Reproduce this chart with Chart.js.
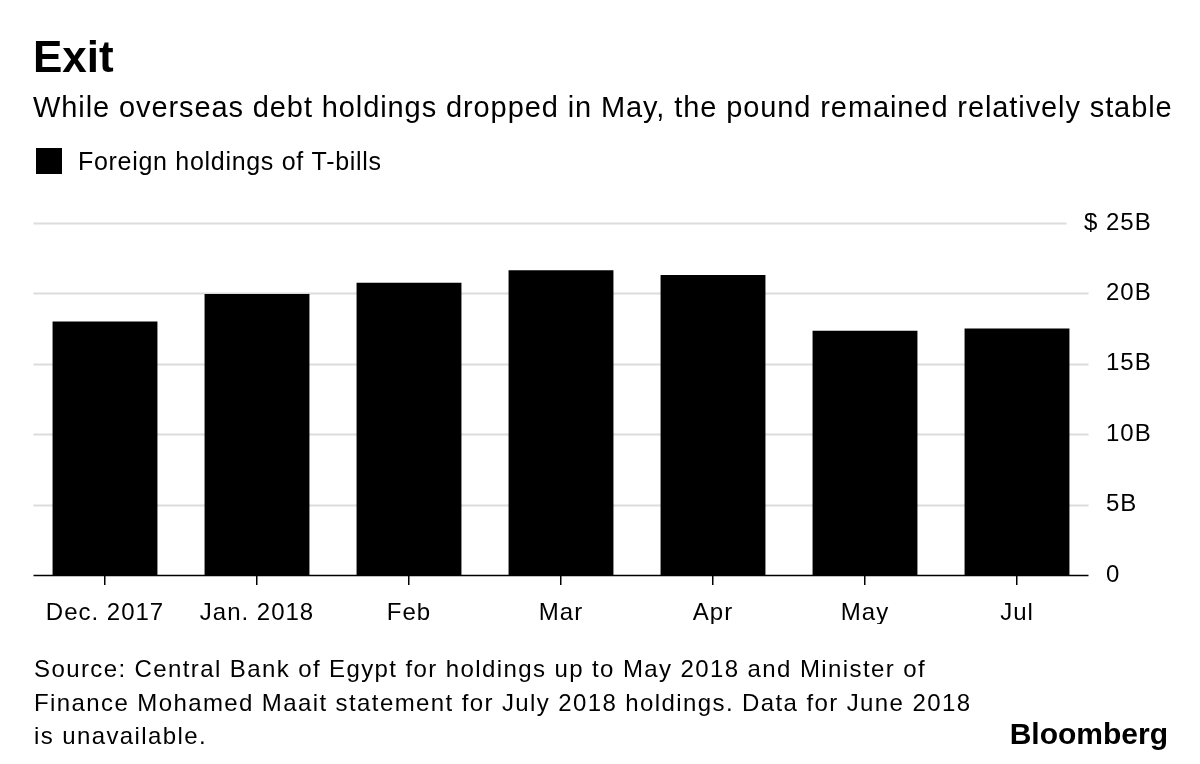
<!DOCTYPE html>
<html>
<head>
<meta charset="utf-8">
<script src="https://cdn.jsdelivr.net/npm/chart.js@4/dist/chart.umd.min.js"></script>
<style>
  html, body { margin: 0; padding: 0; background: #fff; }
  #wrap { width: 1200px; height: 764px; }
</style>
</head>
<body>
<div id="wrap"><canvas id="barChart" width="1200" height="764"></canvas></div>
<script>
const categories = ["Dec. 2017", "Jan. 2018", "Feb", "Mar", "Apr", "May", "Jul"];
const holdings = [18.0, 19.95, 20.75, 21.65, 21.3, 17.35, 17.5];
const seriesName = "Foreign holdings of T-bills";
const yTickValues = [0, 5, 10, 15, 20, 25];
const yTickLabels = ["0", "5B", "10B", "15B", "20B", "25B"];
const currencyPrefix = "$ ";

const FONT = "'Liberation Sans', Arial, Helvetica, sans-serif";
Chart.defaults.font.family = FONT;
Chart.defaults.color = "#000";

const LABEL_PAD = 13;

// the reference font runs wider than Arial, so space the letters out a bit
const spacing = {
  id: "spacing",
  beforeDraw(chart) { chart.ctx.letterSpacing = "1px"; }
};

// grid lines (and the zero line) stop a little before each label
const gridLines = {
  id: "gridLines",
  beforeDatasetsDraw(chart) {
    const { ctx, chartArea, scales: { y } } = chart;
    const labelX = y.left + LABEL_PAD;
    ctx.save();
    ctx.font = "24px " + FONT;
    ctx.letterSpacing = "1px";
    yTickValues.forEach((v) => {
      const py = Math.round(y.getPixelForValue(v)) + 0.5;
      let end = labelX - 17.5;
      if (v === 25) end -= ctx.measureText(currencyPrefix).width;
      ctx.beginPath();
      ctx.strokeStyle = v === 0 ? "#000" : "#dcdcdc";
      ctx.lineWidth = v === 0 ? 1.5 : 2;
      ctx.moveTo(chartArea.left + 4.5, py);
      ctx.lineTo(end, py);
      ctx.stroke();
    });
    ctx.restore();
  }
};

const headerFooter = {
  id: "headerFooter",
  afterDraw(chart) {
    const { ctx, scales: { y } } = chart;
    ctx.save();
    ctx.fillStyle = "#000";

    // "$ " hangs to the left of the top tick label
    ctx.font = "24px " + FONT;
    ctx.letterSpacing = "1px";
    ctx.textAlign = "right";
    ctx.textBaseline = "middle";
    ctx.fillText(currencyPrefix, y.left + LABEL_PAD, y.getPixelForValue(25));

    ctx.textBaseline = "alphabetic";
    ctx.textAlign = "left";

    ctx.letterSpacing = "0px";
    ctx.font = "bold 44px " + FONT;
    ctx.fillText("Exit", 33, 72);

    ctx.letterSpacing = "0.9px";
    ctx.font = "29px " + FONT;
    ctx.fillText("While overseas debt holdings dropped in May, the pound remained relatively stable", 33, 117);

    // legend
    ctx.fillRect(36, 148, 26, 26);
    ctx.letterSpacing = "0.7px";
    ctx.font = "25px " + FONT;
    ctx.fillText(seriesName, 78, 170);

    // source
    ctx.letterSpacing = "1.4px";
    ctx.font = "24px " + FONT;
    const src = [
      "Source: Central Bank of Egypt for holdings up to May 2018 and Minister of",
      "Finance Mohamed Maait statement for July 2018 holdings. Data for June 2018",
      "is unavailable."
    ];
    src.forEach((line, i) => ctx.fillText(line, 34, 677 + i * 33.5));

    ctx.letterSpacing = "0px";
    ctx.textAlign = "right";
    ctx.font = "bold 30px " + FONT;
    ctx.fillText("Bloomberg", 1168, 744);
    ctx.restore();
  }
};

new Chart(document.getElementById("barChart"), {
  type: "bar",
  data: {
    labels: categories,
    datasets: [{
      label: seriesName,
      data: holdings,
      backgroundColor: "#000",
      borderWidth: 0,
      categoryPercentage: 1,
      barPercentage: 0.69
    }]
  },
  options: {
    responsive: false,
    animation: false,
    layout: { padding: { left: 29, right: 0, top: 223, bottom: 140 } },
    plugins: {
      legend: { display: false },
      tooltip: { enabled: false }
    },
    scales: {
      x: {
        afterFit(scale) { scale.height = 764 - 140 - 575; },
        grid: {
          offset: false,
          drawOnChartArea: false,
          drawTicks: true,
          tickLength: 10,
          color: "#000",
          lineWidth: 1.5
        },
        border: { display: false },
        ticks: { font: { size: 24 }, padding: 14, color: "#000", maxRotation: 0 }
      },
      y: {
        position: "right",
        min: 0,
        max: 25,
        afterFit(scale) { scale.width = 107; },
        afterBuildTicks(scale) { scale.ticks = yTickValues.map(v => ({ value: v })); },
        grid: { display: false, drawTicks: false },
        border: { display: false },
        ticks: {
          font: { size: 24 },
          padding: LABEL_PAD,
          crossAlign: "near",
          color: "#000",
          callback: (v) => yTickLabels[yTickValues.indexOf(v)]
        }
      }
    }
  },
  plugins: [spacing, gridLines, headerFooter]
});
</script>
</body>
</html>
